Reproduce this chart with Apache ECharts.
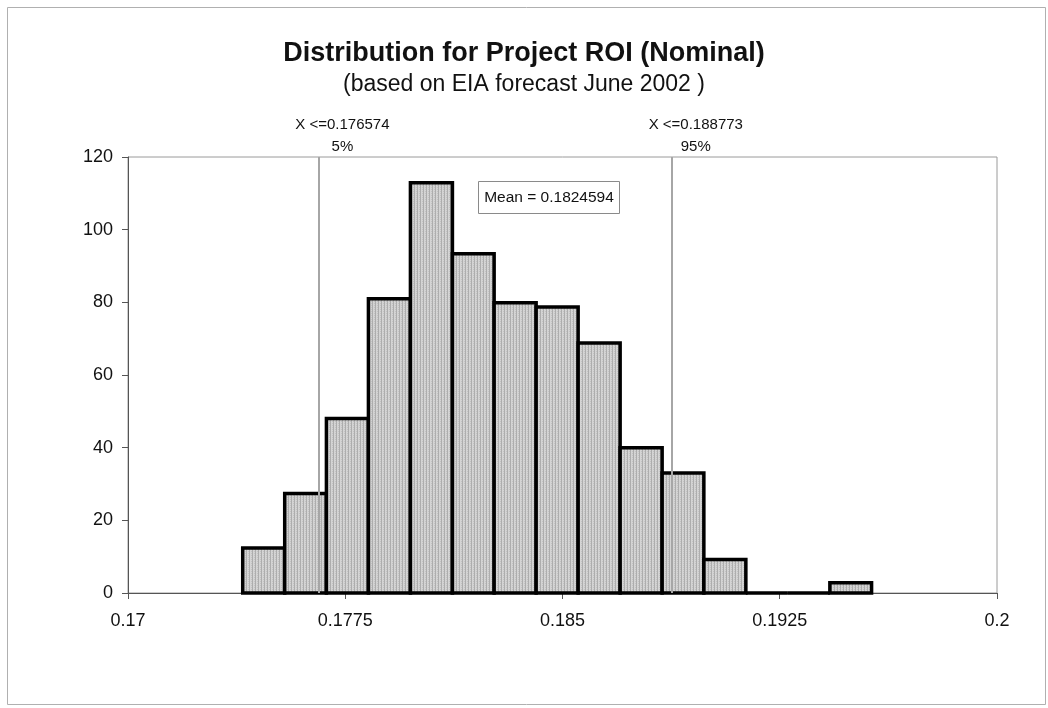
<!DOCTYPE html>
<html>
<head>
<meta charset="utf-8">
<title>Distribution for Project ROI (Nominal)</title>
<script src="https://cdn.jsdelivr.net/npm/echarts@6/dist/echarts.min.js"></script>
<style>
  html, body { margin: 0; padding: 0; background: #ffffff; }
  #chart { width: 1048px; height: 708px; }
</style>
</head>
<body>
<div id="chart"></div>
<script>
// Histogram bin edges (ROI) and density heights for each bin
const binEdges = [0.17396, 0.17541, 0.17685, 0.17830, 0.17975, 0.18120, 0.18264, 0.18409,
                  0.18554, 0.18699, 0.18844, 0.18988, 0.19133, 0.19278, 0.19423, 0.19567];
const densities = [12.4, 27.4, 48.0, 81.0, 112.9, 93.4, 79.9, 78.7, 68.8, 40.0, 33.0, 9.2, 0, 0, 2.8];

// Percentile markers and mean
const percentileValues = [0.176574, 0.188773];
const percentileLabels = ['5%', '95%'];
const meanValue = 0.1824594;

// Axis ticks
const xTicks = [0.17, 0.1775, 0.185, 0.1925, 0.2];
const yTicks = [0, 20, 40, 60, 80, 100, 120];

const FONT = 'Arial, "Liberation Sans", Helvetica, sans-serif';

// Vertical striped grey fill for the bars
function stripePattern() {
  const c = document.createElement('canvas');
  c.width = 3; c.height = 2;
  const g = c.getContext('2d');
  g.fillStyle = '#d4d4d4'; g.fillRect(0, 0, 3, 2);
  g.fillStyle = '#adadad'; g.fillRect(0, 0, 1, 2);
  g.fillStyle = '#c2c2c2'; g.fillRect(2, 1, 1, 1);
  return { image: c, repeat: 'repeat' };
}
const barFill = stripePattern();

const histData = densities.map((h, i) => [binEdges[i], binEdges[i + 1], h]);

const chart = echarts.init(document.getElementById('chart'), null, { renderer: 'canvas' });

const option = {
  backgroundColor: '#ffffff',
  animation: false,
  title: [
    {
      text: 'Distribution for Project ROI (Nominal)',
      left: 'center', top: 35,
      textStyle: { fontFamily: FONT, fontSize: 27, fontWeight: 'bold', color: '#111' }
    },
    {
      text: '(based on EIA forecast June 2002 )',
      left: 'center', top: 68,
      textStyle: { fontFamily: FONT, fontSize: 23, fontWeight: 'normal', color: '#111' }
    }
  ],
  grid: {
    left: 128, right: 51, top: 157, bottom: 115,
    show: true, borderColor: '#9a9a9a', borderWidth: 1, backgroundColor: 'transparent'
  },
  xAxis: {
    type: 'value',
    min: xTicks[0], max: xTicks[xTicks.length - 1], interval: xTicks[1] - xTicks[0],
    splitLine: { show: false },
    axisLine: { show: true, onZero: false, lineStyle: { color: '#555', width: 1 } },
    axisTick: { show: true, inside: false, length: 6, lineStyle: { color: '#555' } },
    axisLabel: {
      fontFamily: FONT, fontSize: 18, color: '#111', margin: 19,
      formatter: v => String(parseFloat(v.toFixed(4)))
    }
  },
  yAxis: {
    type: 'value',
    min: yTicks[0], max: yTicks[yTicks.length - 1], interval: yTicks[1] - yTicks[0],
    splitLine: { show: false },
    axisLine: { show: true, lineStyle: { color: '#555', width: 1 } },
    axisTick: { show: true, inside: false, length: 6, lineStyle: { color: '#555' } },
    axisLabel: { fontFamily: FONT, fontSize: 18, color: '#111', margin: 15 }
  },
  series: [
    {
      type: 'custom',
      data: histData,
      encode: { x: [0, 1], y: 2 },
      renderItem: function (params, api) {
        const p0 = api.coord([api.value(0), api.value(2)]);
        const p1 = api.coord([api.value(1), 0]);
        return {
          type: 'rect',
          shape: { x: p0[0], y: p0[1], width: p1[0] - p0[0], height: p1[1] - p0[1] },
          style: { fill: barFill, stroke: '#000', lineWidth: 3.5 }
        };
      },
      z: 3,
      markLine: {
        silent: true,
        symbol: ['none', 'none'],
        label: { show: false },
        lineStyle: { color: '#a6a6a6', width: 2, type: 'solid' },
        data: percentileValues.map(v => [
          { coord: [v, yTicks[0]] },
          { coord: [v, yTicks[yTicks.length - 1]] }
        ]),
        z: 6
      }
    }
  ]
};

chart.setOption(option);

// Percentile captions above the plot and the mean box
const plotTop = chart.convertToPixel({ gridIndex: 0 }, [xTicks[0], yTicks[yTicks.length - 1]])[1];
const graphics = [];
percentileValues.forEach((v, i) => {
  const px = chart.convertToPixel({ gridIndex: 0 }, [v, 0])[0];
  graphics.push({
    type: 'text', x: px + 24, y: plotTop - 32,
    style: { text: 'X <=' + v, fontFamily: FONT, fontSize: 15, fill: '#111', align: 'center', verticalAlign: 'middle' }
  });
  graphics.push({
    type: 'text', x: px + 24, y: plotTop - 10,
    style: { text: percentileLabels[i], fontFamily: FONT, fontSize: 15, fill: '#111', align: 'center', verticalAlign: 'middle' }
  });
});
graphics.push({
  type: 'group', left: 478, top: 181,
  children: [
    { type: 'rect', shape: { x: 0, y: 0, width: 141, height: 32 },
      style: { fill: '#fff', stroke: '#8a8a8a', lineWidth: 1 } },
    { type: 'text', x: 70.5, y: 16,
      style: { text: 'Mean = ' + meanValue, fontFamily: FONT, fontSize: 15.5, fill: '#111', align: 'center', verticalAlign: 'middle' } }
  ]
});
// Outer chart frame
graphics.push({
  type: 'rect', left: 5, top: 5, silent: true,
  shape: { x: 0, y: 0, width: 1038, height: 697 },
  style: { fill: 'none', stroke: '#b0b0b0', lineWidth: 1 }
});
chart.setOption({ graphic: graphics });
</script>
</body>
</html>
